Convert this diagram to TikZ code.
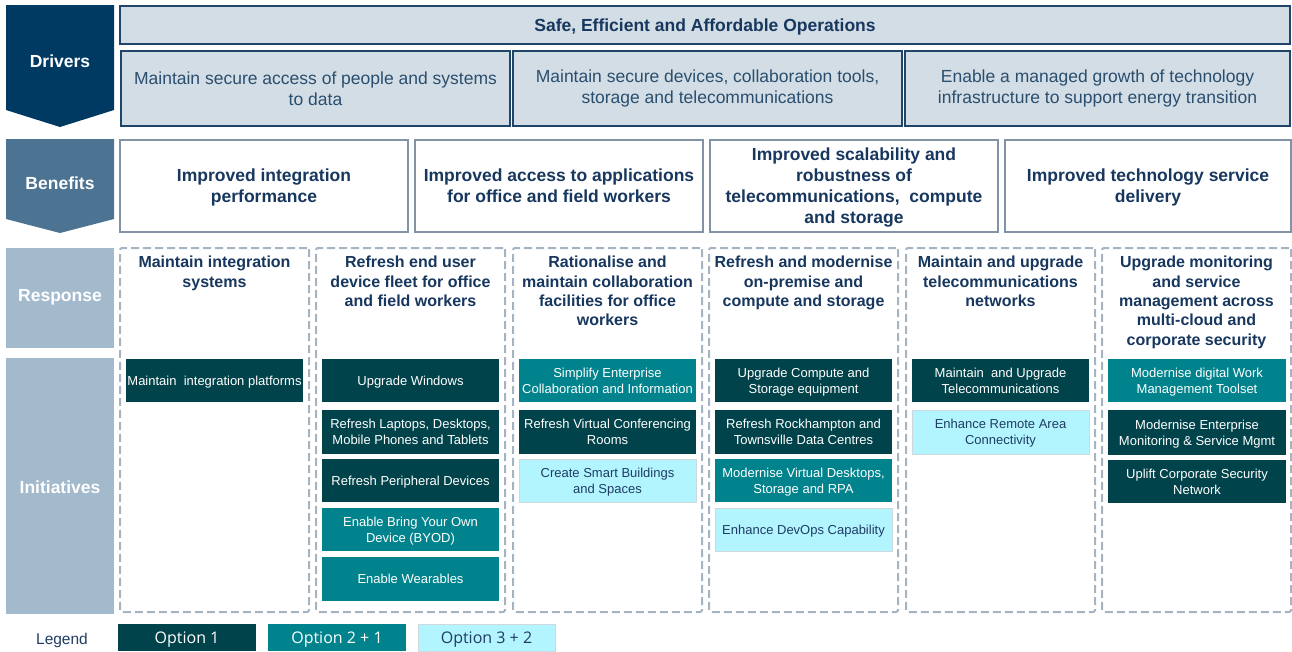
\documentclass[tikz,border=0pt]{standalone}
\usepackage{fontspec}
\setmainfont{Liberation Sans}
\newfontfamily\legendfont{Open Sans}
\definecolor{navy}{HTML}{003A63}
\definecolor{steel}{HTML}{4D7392}
\definecolor{pale}{HTML}{A3B9CC}
\definecolor{headfill}{HTML}{D3DDE5}
\definecolor{headdraw}{HTML}{1F4568}
\definecolor{drvtext}{HTML}{2A4E6E}
\definecolor{bendraw}{HTML}{8193A5}
\definecolor{headtext}{HTML}{17375E}
\definecolor{dashc}{HTML}{A5B4C3}
\definecolor{darkteal}{HTML}{00434A}
\definecolor{midteal}{HTML}{00838C}
\definecolor{lightcyan}{HTML}{B2F5FF}
\definecolor{lightborder}{HTML}{CFD8DC}
\definecolor{lighttext}{HTML}{1F3C64}
\tikzset{
  box/.style n args={4}{minimum width={(#3)-(#1)}, minimum height={(#4)-(#2)},
    at={({((#1)+(#3))/2},{((#2)+(#4))/2})}},
  tag/.style={text=white, font=\fontsize{17.5}{21}\selectfont\bfseries, inner sep=0},
  hdr/.style={draw=headdraw, line width=2pt, fill=headfill, inner sep=0,
    text=headtext, font=\fontsize{17.5}{21}\selectfont\bfseries},
  drv/.style={hdr, text=drvtext, font=\fontsize{17.5}{21}\selectfont, align=center},
  ben/.style={draw=bendraw, line width=1.8pt, fill=white, inner sep=0, text=headtext,
    font=\fontsize{17.5}{21}\selectfont\bfseries, align=center, text depth=0pt},
  col/.style={draw=dashc, line width=2pt, dash pattern=on 8pt off 4pt, rounded corners=2pt},
  resp/.style={text=headtext, font=\fontsize{16}{19.3}\selectfont\bfseries, align=center,
    anchor=north, inner sep=0},
  init/.style={inner sep=0, font=\fontsize{13}{16}\selectfont, align=center,
    text depth=-2pt},
  opt1/.style={init, fill=darkteal, text=white},
  opt2/.style={init, fill=midteal, text=white},
  opt3/.style={init, fill=lightcyan, text=lighttext, draw=lightborder, line width=0.8pt},
  legbox/.style={inner sep=0, font=\legendfont\fontsize{16}{19}\selectfont, text depth=-1pt}
}
\begin{document}
\begin{tikzpicture}[x=1pt,y=-1pt]
\useasboundingbox (0,0) rectangle (1292,651);

% row labels on the left
\fill[navy] (6,5) -- (114,5) -- (114,110) -- (60,127) -- (6,110) -- cycle;
\node[tag] (drivers) at (60,61) {Drivers};
\fill[steel] (6,139) -- (114,139) -- (114,219) -- (60,233) -- (6,219) -- cycle;
\node[tag] (benefits) at (60,183) {Benefits};
\fill[pale] (6,248) rectangle (114,348);
\node[tag] (response) at (60,297) {Response};
\fill[pale] (6,358) rectangle (114,614);
\node[tag] (initiatives) at (60,487) {Initiatives};

% drivers
\node[hdr, text depth=0pt, box={120}{6}{1290}{44}] (goal) {Safe, Efficient and Affordable Operations};
\node[drv, box={121}{51}{510}{126}] (d1) {Maintain secure access of people and systems\\to data};
\node[drv, box={513}{51}{902}{126}] (d2) {Maintain secure devices, collaboration tools,\\storage and telecommunications};
\node[drv, box={905}{51}{1290}{126}] (d3) {Enable a managed growth of technology\\infrastructure to support energy transition};

% benefits
\node[ben, box={120}{140}{408}{232}] (b1) {Improved integration\\performance};
\node[ben, box={415}{140}{703}{232}] (b2) {Improved access to applications\\for office and field workers};
\node[ben, box={710}{140}{998}{232}] (b3) {Improved scalability and\\robustness of\\telecommunications,\ \ compute\\and storage};
\node[ben, box={1005}{140}{1291}{232}] (b4) {Improved technology service\\delivery};

% response columns
\node[col, box={120}{248}{309}{612}] (c1) {};
\node[col, box={316}{248}{505}{612}] (c2) {};
\node[col, box={513}{248}{702}{612}] (c3) {};
\node[col, box={709}{248}{898}{612}] (c4) {};
\node[col, box={906}{248}{1095}{612}] (c5) {};
\node[col, box={1102}{248}{1291}{612}] (c6) {};

\node[resp] (h1) at (214.5,256) {Maintain integration\\systems};
\node[resp] (h2) at (410.5,256) {Refresh end user\\device fleet for office\\and field workers};
\node[resp] (h3) at (607.5,256) {Rationalise and\\maintain collaboration\\facilities for office\\workers};
\node[resp] (h4) at (803.5,256) {Refresh and modernise\\on-premise and\\compute and storage};
\node[resp] (h5) at (1000.5,256) {Maintain and upgrade\\telecommunications\\networks};
\node[resp] (h6) at (1196.5,256) {Upgrade monitoring\\and service\\management across\\multi-cloud and\\corporate security};

% initiatives
\node[opt1, box={126}{359}{303}{402}] (i11) {Maintain\ \ integration platforms};

\node[opt1, box={322}{359}{499}{402}] (i21) {Upgrade Windows};
\node[opt1, box={322}{410}{499}{454}] (i22) {Refresh Laptops, Desktops,\\Mobile Phones and Tablets};
\node[opt1, box={322}{459}{499}{502}] (i23) {Refresh Peripheral Devices};
\node[opt2, box={322}{508}{499}{551}] (i24) {Enable Bring Your Own\\Device (BYOD)};
\node[opt2, box={322}{557}{499}{601}] (i25) {Enable Wearables};

\node[opt2, box={519}{359}{696}{402}] (i31) {Simplify Enterprise\\Collaboration and Information};
\node[opt1, box={519}{410}{696}{454}] (i32) {Refresh Virtual Conferencing\\Rooms};
\node[opt3, box={519}{459}{696}{502}] (i33) {Create Smart Buildings\\and Spaces};

\node[opt1, box={715}{359}{892}{402}] (i41) {Upgrade Compute and\\Storage equipment};
\node[opt1, box={715}{410}{892}{454}] (i42) {Refresh Rockhampton and\\Townsville Data Centres};
\node[opt2, box={715}{459}{892}{502}] (i43) {Modernise Virtual Desktops,\\Storage and RPA};
\node[opt3, box={715}{508}{892}{551}] (i44) {Enhance DevOps Capability};

\node[opt1, box={912}{359}{1089}{402}] (i51) {Maintain\ \ and Upgrade\\Telecommunications};
\node[opt3, box={912}{410}{1089}{454}] (i52) {Enhance Remote Area\\Connectivity};

\node[opt2, box={1108}{359}{1286}{402}] (i61) {Modernise digital Work\\Management Toolset};
\node[opt1, box={1108}{410}{1286}{455}] (i62) {Modernise Enterprise\\Monitoring \& Service Mgmt};
\node[opt1, box={1108}{460}{1286}{503}] (i63) {Uplift Corporate Security\\Network};

% legend
\node[text=lighttext, font=\fontsize{15.5}{18}\selectfont, inner sep=0] (legend) at (62,640) {Legend};
\node[legbox, fill=darkteal, text=white, box={118}{624}{256}{651}] (o1) {Option 1};
\node[legbox, fill=midteal, text=white, box={268}{624}{406}{651}] (o2) {Option 2 + 1};
\node[legbox, fill=lightcyan, text=lighttext, draw=lightborder, line width=0.8pt, box={418}{624.5}{555}{651.5}] (o3) {Option 3 + 2};
\end{tikzpicture}
\end{document}
